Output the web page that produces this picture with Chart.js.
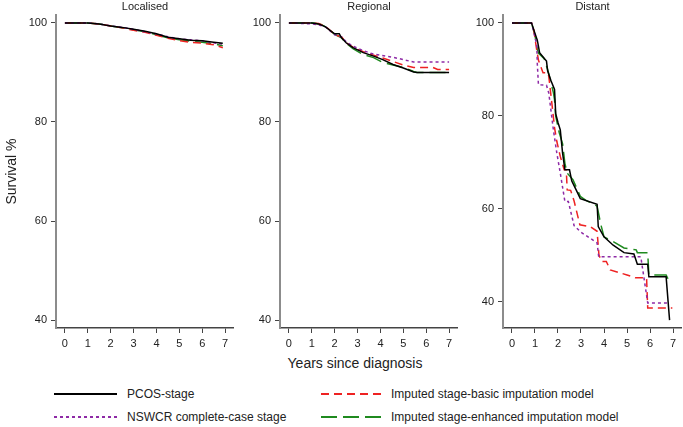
<!DOCTYPE html>
<html>
<head>
<meta charset="utf-8">
<script src="https://cdn.jsdelivr.net/npm/chart.js@4.4.1/dist/chart.umd.min.js"></script>
<style>
    body { margin: 0; background: #fff; font-family: "Liberation Sans", Arial, sans-serif; }
    #wrap { position: relative; width: 683px; height: 427px; overflow: hidden; }
    .panel { position: absolute; top: 0; }
    #xTitle { position: absolute; left: 205px; width: 300px; top: 355px; text-align: center; font-size: 14px; line-height: 16px; color: #222; }
    .leg { position: absolute; height: 14px; font-size: 12px; line-height: 14px; color: #222; white-space: nowrap; }
    .leg svg { position: absolute; left: 0; top: 0; }
    .leg span { position: absolute; top: 0; }
</style>
</head>
<body>
<div id="wrap">
    <canvas id="locChart" class="panel" width="234" height="350" style="left:0px"></canvas>
    <canvas id="regChart" class="panel" width="218" height="350" style="left:240px"></canvas>
    <canvas id="disChart" class="panel" width="219" height="350" style="left:463px"></canvas>
    <div id="xTitle">Years since diagnosis</div>
    <div id="legend"></div>
</div>
<script>
// ช่วงเวลา (ปี) และค่ารอดชีพ % ที่อ่านจากภาพ
const xTicks = [0, 1, 2, 3, 4, 5, 6, 7];
const yTicks = [40, 60, 80, 100];
const panelTitles = ['Localised', 'Regional', 'Distant'];
const seriesNames = ['PCOS-stage', 'NSWCR complete-case stage', 'Imputed stage-basic imputation model', 'Imputed stage-enhanced imputation model'];

// Localised
const locTime  = [0, 1, 1.5, 2, 2.5, 3, 3.5, 4, 4.5, 5, 5.5, 6, 6.5, 6.9];
const locPcos  = [100, 100, 99.8, 99.4, 99.1, 98.7, 98.3, 97.8, 97.1, 96.8, 96.5, 96.4, 96.1, 95.9];
const locNswcr = [100, 100, 99.8, 99.4, 99.1, 98.7, 98.2, 97.8, 97.2, 96.8, 96.6, 96.4, 96.0, 95.7];
const locBasic = [100, 100, 99.8, 99.4, 99.0, 98.5, 98.1, 97.5, 96.9, 96.4, 96.1, 95.9, 95.6, 95.0];
const locEnh   = [100, 100, 99.8, 99.4, 99.0, 98.6, 98.2, 97.6, 97.0, 96.6, 96.3, 96.1, 95.8, 95.4];

// Regional
const regPcosT  = [0, 1.0, 1.3, 1.6, 1.85, 2.0, 2.2, 2.3, 2.5, 2.8, 3.25, 3.7, 4.1, 4.55, 5.0, 5.45, 5.6, 7.0];
const regPcos   = [100, 100, 99.8, 99.2, 98.3, 97.8, 97.8, 97.0, 96.0, 95.0, 94.0, 93.3, 92.6, 91.6, 90.9, 90.1, 90.0, 90.0];
const regNswcrT = [0, 1.0, 1.3, 1.6, 1.85, 2.0, 2.3, 2.5, 2.8, 3.25, 3.7, 4.0, 4.5, 5.0, 5.45, 7.0];
const regNswcr  = [100, 99.8, 99.6, 99.2, 98.2, 97.6, 97.2, 96.2, 95.3, 94.4, 93.7, 93.5, 93.1, 92.6, 92.1, 92.1];
const regBasicT = [0, 1.0, 1.3, 1.6, 1.85, 2.0, 2.3, 2.5, 2.8, 3.25, 3.7, 4.1, 4.5, 5.0, 5.45, 6.3, 6.5, 7.0];
const regBasic  = [100, 100, 99.9, 99.3, 98.3, 97.6, 97.2, 96.0, 95.1, 94.2, 93.5, 92.9, 92.3, 91.5, 91.0, 91.0, 90.6, 90.6];
const regEnhT   = [0, 1.1, 1.4, 1.6, 1.85, 2.0, 2.3, 2.5, 2.8, 3.25, 3.7, 4.1, 4.55, 5.0, 5.45, 5.6, 7.0];
const regEnh    = [100, 100, 99.7, 99.2, 98.3, 97.7, 97.0, 95.9, 94.8, 93.6, 93.0, 92.0, 91.5, 91.0, 90.2, 90.0, 90.0];

// Distant
const disPcosT  = [0, 0.85, 0.95, 1.1, 1.15, 1.2, 1.5, 1.55, 1.7, 1.85, 1.9, 2.0, 2.1, 2.2, 2.3, 2.5, 2.6, 2.8, 2.97, 3.7, 3.75, 4.0, 4.4, 4.87, 5.3, 5.45, 5.9, 5.95, 6.7, 6.85];
const disPcos   = [100, 100, 98.5, 96.3, 95.0, 93.6, 91.8, 89.7, 87.5, 85.7, 80.5, 78.6, 77.0, 72.0, 68.4, 68.4, 66.0, 64.0, 62.2, 61.0, 56.2, 54.0, 52.2, 50.6, 50.3, 48.1, 48.1, 45.4, 45.4, 36.1];
const disNswcrT = [0, 0.85, 1.0, 1.08, 1.1, 1.15, 1.5, 1.6, 1.75, 1.8, 1.95, 2.1, 2.3, 2.45, 2.7, 3.0, 3.7, 3.77, 5.6, 5.9, 6.85];
const disNswcr  = [100, 100, 97.0, 95.0, 91.3, 86.7, 86.6, 84.9, 79.0, 77.0, 72.0, 67.7, 61.6, 61.6, 56.4, 55.0, 52.7, 49.7, 49.7, 39.8, 39.8];
const disBasicT = [0, 0.85, 0.95, 1.05, 1.15, 1.35, 1.55, 1.6, 1.75, 1.85, 1.95, 2.1, 2.27, 2.36, 2.4, 2.55, 2.7, 2.95, 3.4, 3.7, 3.78, 3.9, 4.1, 4.27, 5.0, 5.37, 5.85, 5.9, 6.97];
const disBasic  = [100, 100, 98.5, 95.0, 92.0, 89.3, 89.3, 88.5, 82.0, 77.5, 74.5, 71.3, 68.4, 68.4, 64.1, 64.0, 61.7, 56.6, 56.2, 55.2, 50.1, 48.7, 48.7, 46.9, 45.8, 45.2, 45.2, 38.7, 38.7];
const disEnhT   = [0, 0.85, 1.0, 1.1, 1.15, 1.4, 1.55, 1.7, 1.8, 1.85, 1.9, 2.05, 2.2, 2.3, 2.4, 2.65, 2.97, 3.2, 3.7, 3.85, 4.0, 4.42, 4.87, 5.4, 5.45, 5.9, 5.95, 6.7, 6.8, 6.97];
const disEnh    = [100, 100, 97.3, 94.4, 93.5, 92.3, 90.0, 87.0, 85.0, 83.5, 80.0, 76.5, 74.0, 69.8, 67.7, 66.3, 62.7, 61.9, 60.6, 56.9, 54.0, 52.9, 51.6, 51.2, 50.6, 50.6, 45.8, 45.8, 44.8, 44.6];

// สไตล์เส้น
const seriesColors = ['#000000', '#8e2aa6', '#ee2222', '#1f8a1f'];
const seriesDash = [[], [3, 3], [8, 5], [16, 6]];

Chart.defaults.font.family = "'Liberation Sans', Arial, sans-serif";

/**
 * ชื่อแผงกึ่งกลางพื้นที่กราฟ
 */
const panelTitle = {
    id: 'panelTitle',
    afterDraw(chart, args, opts) {
        const { ctx, chartArea } = chart;
        ctx.save();
        ctx.font = "11px 'Liberation Sans', Arial, sans-serif";
        ctx.fillStyle = '#222';
        ctx.textAlign = 'center';
        ctx.textBaseline = 'middle';
        ctx.fillText(opts.text, (chartArea.left + chartArea.right) / 2, 7);
        ctx.restore();
    }
};

function toPoints(time, surv) {
    return time.map((t, i) => ({ x: t, y: surv[i] }));
}

function makePanel(id, title, series, yMin, yMax, yWidth, showYTitle) {
    const datasets = series.map((s, i) => ({
        label: seriesNames[i],
        data: toPoints(s[0], s[1]),
        borderColor: seriesColors[i],
        borderDash: seriesDash[i],
        borderWidth: 1.5,
        pointRadius: 0,
        fill: false,
        tension: 0
    }));

    return new Chart(document.getElementById(id), {
        type: 'line',
        data: { datasets },
        plugins: [panelTitle],
        options: {
            responsive: false,
            animation: false,
            layout: { padding: { top: 15, left: 0, right: 0, bottom: 0 } },
            plugins: {
                legend: { display: false },
                tooltip: { enabled: false },
                panelTitle: { text: title }
            },
            scales: {
                x: {
                    type: 'linear',
                    min: -0.39,
                    max: 7.39,
                    afterBuildTicks: s => { s.ticks = xTicks.map(v => ({ value: v })); },
                    afterFit: s => { s.height = 22; },
                    grid: { display: true, drawOnChartArea: false, drawTicks: true, tickLength: 5, color: '#444', lineWidth: 1 },
                    border: { display: true, color: '#444', width: 1.5 },
                    ticks: { padding: 4, color: '#222', font: { size: 11 }, maxRotation: 0, autoSkip: false }
                },
                y: {
                    min: yMin,
                    max: yMax,
                    afterBuildTicks: s => { s.ticks = yTicks.map(v => ({ value: v })); },
                    afterFit: s => { s.width = yWidth; },
                    grid: { display: true, drawOnChartArea: false, drawTicks: true, tickLength: 5, color: '#444', lineWidth: 1 },
                    border: { display: true, color: '#8c8c8c', width: 2 },
                    ticks: { padding: 4, color: '#222', font: { size: 11 } },
                    title: { display: showYTitle, text: 'Survival %', color: '#222', font: { size: 14 }, padding: { top: 4, bottom: 4 } }
                }
            }
        }
    });
}

makePanel('locChart', panelTitles[0],
    [[locTime, locPcos], [locTime, locNswcr], [locTime, locBasic], [locTime, locEnh]],
    38.4, 101.6, 56, true);
makePanel('regChart', panelTitles[1],
    [[regPcosT, regPcos], [regNswcrT, regNswcr], [regBasicT, regBasic], [regEnhT, regEnh]],
    38.4, 101.6, 40, false);
makePanel('disChart', panelTitles[2],
    [[disPcosT, disPcos], [disNswcrT, disNswcr], [disBasicT, disBasic], [disEnhT, disEnh]],
    34.4, 101.7, 40, false);

// Legend (2 คอลัมน์)
const legendSlots = [[54, 387, 63], [54, 410, 63], [321, 387, 60], [321, 410, 60]];
const legendBox = document.getElementById('legend');
seriesNames.forEach((name, i) => {
    const [left, top, len] = legendSlots[i];
    const item = document.createElement('div');
    item.className = 'leg';
    item.style.left = left + 'px';
    item.style.top = top + 'px';
    item.innerHTML =
        `<svg width="${len}" height="14"><line x1="0" y1="7" x2="${len}" y2="7" stroke="${seriesColors[i]}" stroke-width="2" stroke-dasharray="${seriesDash[i].join(' ') || 'none'}"/></svg>` +
        `<span style="left:${len + 10}px">${name}</span>`;
    legendBox.appendChild(item);
});
</script>
</body>
</html>
